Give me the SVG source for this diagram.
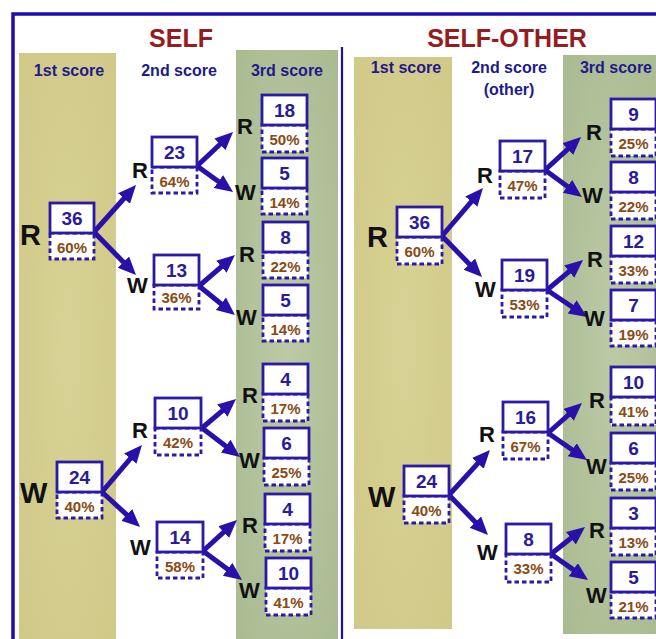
<svg xmlns="http://www.w3.org/2000/svg" width="656" height="639" viewBox="0 0 656 639">
<style>
text{font-family:"Liberation Sans",Arial,sans-serif;font-weight:bold}
.title{font-size:25px;fill:#951c1f;text-anchor:middle}
.hdr{font-size:16px;fill:#221a8c;text-anchor:middle}
.box{fill:#fff;stroke:#2a1aa6;stroke-width:2.8}
.dash{fill:#fff;stroke:#2a1aa6;stroke-width:2.8;stroke-dasharray:4.5 3}
.num{font-size:19px;fill:#2a1a9c;text-anchor:middle}
.pct{font-size:15px;fill:#8a4a14;text-anchor:middle}
.l1{font-size:29px;fill:#111}
.l2{font-size:22px;fill:#111}
.arr line{stroke:#2a10aa;stroke-width:5}
.frame{stroke:#1e0eb0;fill:none}
</style>
<defs>
<marker id="ah" markerUnits="userSpaceOnUse" markerWidth="20" markerHeight="18" refX="6" refY="8" orient="auto">
<path d="M0,0 L18,8 L0,16 z" fill="#2a10aa"/>
</marker>
<radialGradient id="gy" cx="0.5" cy="0.5" r="0.7">
<stop offset="0" stop-color="#d8d294"/><stop offset="1" stop-color="#d0c988"/>
</radialGradient>
<radialGradient id="gg" cx="0.5" cy="0.5" r="0.7">
<stop offset="0" stop-color="#bccaa6"/><stop offset="1" stop-color="#a9bb91"/>
</radialGradient>
</defs>
<rect width="656" height="639" fill="#fff"/>
<!-- panels -->
<rect x="19" y="53" width="97" height="590" fill="url(#gy)"/>
<rect x="236" y="50" width="102" height="593" fill="url(#gg)"/>
<rect x="354" y="57" width="98" height="572" fill="url(#gy)"/>
<rect x="563" y="55" width="100" height="579" fill="url(#gg)"/>
<!-- frame -->
<path class="frame" d="M13,645 V14 H660" stroke-width="3.5"/>
<line class="frame" x1="342" y1="47" x2="342" y2="645" stroke-width="2.2"/>
<!-- titles -->
<text class="title" x="181" y="47">SELF</text>
<text class="title" x="507" y="47">SELF-OTHER</text>
<text class="hdr" x="69" y="76">1st score</text>
<text class="hdr" x="179" y="76">2nd score</text>
<text class="hdr" x="287" y="76">3rd score</text>
<text class="hdr" x="406" y="73">1st score</text>
<text class="hdr" x="509" y="73">2nd score</text>
<text class="hdr" x="509" y="95">(other)</text>
<text class="hdr" x="616" y="73">3rd score</text>
<!-- connectors -->
<g class="arr" id="connectors">
<line x1="94" y1="232" x2="128.0" y2="194.0" marker-end="url(#ah)"/>
<line x1="94" y1="232" x2="127.6" y2="266.4" marker-end="url(#ah)"/>
<line x1="197" y1="166" x2="224.3" y2="140.2" marker-end="url(#ah)"/>
<line x1="197" y1="166" x2="223.3" y2="185.0" marker-end="url(#ah)"/>
<line x1="199" y1="286" x2="225.9" y2="262.8" marker-end="url(#ah)"/>
<line x1="199" y1="286" x2="225.6" y2="307.5" marker-end="url(#ah)"/>
<line x1="102" y1="492" x2="134.2" y2="454.1" marker-end="url(#ah)"/>
<line x1="102" y1="492" x2="131.2" y2="518.9" marker-end="url(#ah)"/>
<line x1="202" y1="428" x2="226.9" y2="406.8" marker-end="url(#ah)"/>
<line x1="202" y1="428" x2="230.5" y2="449.7" marker-end="url(#ah)"/>
<line x1="203" y1="551" x2="228.1" y2="528.1" marker-end="url(#ah)"/>
<line x1="203" y1="551" x2="232.4" y2="572.8" marker-end="url(#ah)"/>
<line x1="442" y1="236" x2="475.2" y2="197.1" marker-end="url(#ah)"/>
<line x1="442" y1="236" x2="473.6" y2="268.4" marker-end="url(#ah)"/>
<line x1="545" y1="170" x2="572.2" y2="145.1" marker-end="url(#ah)"/>
<line x1="545" y1="170" x2="572.3" y2="189.9" marker-end="url(#ah)"/>
<line x1="547" y1="290" x2="573.8" y2="267.7" marker-end="url(#ah)"/>
<line x1="547" y1="290" x2="577.1" y2="310.3" marker-end="url(#ah)"/>
<line x1="449" y1="495" x2="481.9" y2="458.9" marker-end="url(#ah)"/>
<line x1="449" y1="495" x2="479.6" y2="526.4" marker-end="url(#ah)"/>
<line x1="548" y1="433" x2="573.0" y2="410.9" marker-end="url(#ah)"/>
<line x1="548" y1="433" x2="577.1" y2="453.2" marker-end="url(#ah)"/>
<line x1="551" y1="554" x2="575.6" y2="534.5" marker-end="url(#ah)"/>
<line x1="551" y1="554" x2="578.2" y2="573.1" marker-end="url(#ah)"/>
</g>
<!-- SELF nodes -->
<g id="s-R36"><text class="l1" x="20" y="245">R</text><rect class="dash" x="50" y="233" width="44" height="26"/><rect class="box" x="50" y="203" width="44" height="30"/><text class="num" x="72" y="225">36</text><text class="pct" x="72" y="253">60%</text></g>
<g id="s-RR23"><text class="l2" x="132" y="178">R</text><rect class="dash" x="152" y="167" width="45" height="26"/><rect class="box" x="152" y="137" width="45" height="30"/><text class="num" x="174.5" y="159">23</text><text class="pct" x="174.5" y="187">64%</text></g>
<g id="s-RW13"><text class="l2" x="127" y="293">W</text><rect class="dash" x="154" y="285" width="45" height="24"/><rect class="box" x="154" y="255" width="45" height="30"/><text class="num" x="176.5" y="277">13</text><text class="pct" x="176.5" y="303">36%</text></g>
<g id="s-RRR18"><text class="l2" x="237" y="134">R</text><rect class="dash" x="262" y="125" width="45" height="27"/><rect class="box" x="262" y="95" width="45" height="30"/><text class="num" x="284.5" y="117">18</text><text class="pct" x="284.5" y="145">50%</text></g>
<g id="s-RRW5"><text class="l2" x="235" y="200">W</text><rect class="dash" x="262" y="188" width="45" height="26"/><rect class="box" x="262" y="158" width="45" height="30"/><text class="num" x="284.5" y="180">5</text><text class="pct" x="284.5" y="208">14%</text></g>
<g id="s-RWR8"><text class="l2" x="239" y="262">R</text><rect class="dash" x="263" y="252" width="45" height="26"/><rect class="box" x="263" y="222" width="45" height="30"/><text class="num" x="285.5" y="244">8</text><text class="pct" x="285.5" y="272">22%</text></g>
<g id="s-RWW5"><text class="l2" x="236" y="325">W</text><rect class="dash" x="263" y="315" width="45" height="26"/><rect class="box" x="263" y="285" width="45" height="30"/><text class="num" x="285.5" y="307">5</text><text class="pct" x="285.5" y="335">14%</text></g>
<g id="s-W24"><text class="l1" x="20" y="503">W</text><rect class="dash" x="57" y="492" width="45" height="26"/><rect class="box" x="57" y="462" width="45" height="30"/><text class="num" x="79.5" y="484">24</text><text class="pct" x="79.5" y="512">40%</text></g>
<g id="s-WR10"><text class="l2" x="132" y="438">R</text><rect class="dash" x="155" y="428" width="46" height="27"/><rect class="box" x="155" y="398" width="46" height="30"/><text class="num" x="178" y="420">10</text><text class="pct" x="178" y="448">42%</text></g>
<g id="s-WW14"><text class="l2" x="130" y="555">W</text><rect class="dash" x="157" y="552" width="46" height="26"/><rect class="box" x="157" y="522" width="46" height="30"/><text class="num" x="180" y="544">14</text><text class="pct" x="180" y="572">58%</text></g>
<g id="s-WRR4"><text class="l2" x="242" y="403">R</text><rect class="dash" x="263" y="394" width="45" height="27"/><rect class="box" x="263" y="364" width="45" height="30"/><text class="num" x="285.5" y="386">4</text><text class="pct" x="285.5" y="414">17%</text></g>
<g id="s-WRW6"><text class="l2" x="239" y="468">W</text><rect class="dash" x="264" y="458" width="45" height="27"/><rect class="box" x="264" y="428" width="45" height="30"/><text class="num" x="286.5" y="450">6</text><text class="pct" x="286.5" y="478">25%</text></g>
<g id="s-WWR4"><text class="l2" x="242" y="533">R</text><rect class="dash" x="265" y="524" width="45" height="27"/><rect class="box" x="265" y="494" width="45" height="30"/><text class="num" x="287.5" y="516">4</text><text class="pct" x="287.5" y="544">17%</text></g>
<g id="s-WWW10"><text class="l2" x="239" y="598">W</text><rect class="dash" x="266" y="588" width="45" height="27"/><rect class="box" x="266" y="558" width="45" height="30"/><text class="num" x="288.5" y="580">10</text><text class="pct" x="288.5" y="608">41%</text></g>
<!-- SELF-OTHER nodes -->
<g id="o-R36"><text class="l1" x="367" y="247">R</text><rect class="dash" x="397" y="237" width="45" height="27"/><rect class="box" x="397" y="207" width="45" height="30"/><text class="num" x="419.5" y="229">36</text><text class="pct" x="419.5" y="257">60%</text></g>
<g id="o-RR17"><text class="l2" x="477" y="183">R</text><rect class="dash" x="500" y="171" width="45" height="27"/><rect class="box" x="500" y="141" width="45" height="30"/><text class="num" x="522.5" y="163">17</text><text class="pct" x="522.5" y="191">47%</text></g>
<g id="o-RW19"><text class="l2" x="475" y="297">W</text><rect class="dash" x="502" y="290" width="45" height="27"/><rect class="box" x="502" y="260" width="45" height="30"/><text class="num" x="524.5" y="282">19</text><text class="pct" x="524.5" y="310">53%</text></g>
<g id="o-RRR9"><text class="l2" x="586" y="140">R</text><rect class="dash" x="611" y="129" width="45" height="27"/><rect class="box" x="611" y="99" width="45" height="30"/><text class="num" x="633.5" y="121">9</text><text class="pct" x="633.5" y="149">25%</text></g>
<g id="o-RRW8"><text class="l2" x="582" y="203">W</text><rect class="dash" x="611" y="192" width="45" height="27"/><rect class="box" x="611" y="162" width="45" height="30"/><text class="num" x="633.5" y="184">8</text><text class="pct" x="633.5" y="212">22%</text></g>
<g id="o-RWR12"><text class="l2" x="587" y="267">R</text><rect class="dash" x="611" y="256" width="45" height="27"/><rect class="box" x="611" y="226" width="45" height="30"/><text class="num" x="633.5" y="248">12</text><text class="pct" x="633.5" y="276">33%</text></g>
<g id="o-RWW7"><text class="l2" x="584" y="326">W</text><rect class="dash" x="611" y="320" width="45" height="26"/><rect class="box" x="611" y="290" width="45" height="30"/><text class="num" x="633.5" y="312">7</text><text class="pct" x="633.5" y="340">19%</text></g>
<g id="o-W24"><text class="l1" x="368" y="507">W</text><rect class="dash" x="404" y="496" width="45" height="27"/><rect class="box" x="404" y="466" width="45" height="30"/><text class="num" x="426.5" y="488">24</text><text class="pct" x="426.5" y="516">40%</text></g>
<g id="o-WR16"><text class="l2" x="479" y="442">R</text><rect class="dash" x="503" y="432" width="45" height="27"/><rect class="box" x="503" y="402" width="45" height="30"/><text class="num" x="525.5" y="424">16</text><text class="pct" x="525.5" y="452">67%</text></g>
<g id="o-WW8"><text class="l2" x="477" y="560">W</text><rect class="dash" x="506" y="554" width="45" height="28"/><rect class="box" x="506" y="524" width="45" height="30"/><text class="num" x="528.5" y="546">8</text><text class="pct" x="528.5" y="574">33%</text></g>
<g id="o-WRR10"><text class="l2" x="589" y="408">R</text><rect class="dash" x="611" y="397" width="45" height="28"/><rect class="box" x="611" y="367" width="45" height="30"/><text class="num" x="633.5" y="389">10</text><text class="pct" x="633.5" y="417">41%</text></g>
<g id="o-WRW6"><text class="l2" x="586" y="474">W</text><rect class="dash" x="611" y="463" width="45" height="27"/><rect class="box" x="611" y="433" width="45" height="30"/><text class="num" x="633.5" y="455">6</text><text class="pct" x="633.5" y="483">25%</text></g>
<g id="o-WWR3"><text class="l2" x="589" y="538">R</text><rect class="dash" x="611" y="528" width="45" height="27"/><rect class="box" x="611" y="498" width="45" height="30"/><text class="num" x="633.5" y="520">3</text><text class="pct" x="633.5" y="548">13%</text></g>
<g id="o-WWW5"><text class="l2" x="586" y="603">W</text><rect class="dash" x="611" y="592" width="45" height="26"/><rect class="box" x="611" y="562" width="45" height="30"/><text class="num" x="633.5" y="584">5</text><text class="pct" x="633.5" y="612">21%</text></g>
</svg>
